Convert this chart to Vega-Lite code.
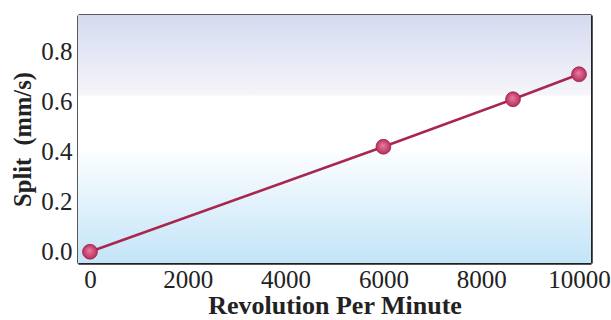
{
  "$schema": "https://vega.github.io/schema/vega-lite/v6.json",
  "width": 513,
  "height": 248,
  "autosize": "none",
  "padding": {"left": 78, "top": 15, "right": 20, "bottom": 57},
  "background": "white",
  "config": {
    "view": {"stroke": null},
    "font": "Liberation Serif",
    "axis": {
      "grid": false,
      "domainColor": "#222222",
      "domainWidth": 2.5,
      "tickColor": "#222222",
      "tickWidth": 2.5,
      "tickSize": -8,
      "labelFont": "Liberation Serif",
      "labelFontSize": 25,
      "labelColor": "#222222",
      "titleFont": "Liberation Serif",
      "titleFontWeight": "bold",
      "titleFontSize": 25,
      "titleColor": "#222222"
    }
  },
  "data": {
    "values": [
      {"rpm": 0, "split": 0.0},
      {"rpm": 6000, "split": 0.42},
      {"rpm": 8650, "split": 0.61},
      {"rpm": 10000, "split": 0.71}
    ]
  },
  "layer": [
    {
      "data": {"values": [{"bg": 1}]},
      "mark": {
        "type": "rect",
        "fill": {
          "gradient": "linear",
          "x1": 0, "y1": 0, "x2": 0, "y2": 1,
          "stops": [
            {"offset": 0, "color": "#d4daef"},
            {"offset": 0.32, "color": "#f5f5fa"},
            {"offset": 0.33, "color": "#ffffff"},
            {"offset": 0.53, "color": "#ffffff"},
            {"offset": 1, "color": "#c3e4f8"}
          ]
        }
      },
      "encoding": {
        "x": {"value": 0},
        "x2": {"value": "width"},
        "y": {"value": 0},
        "y2": {"value": "height"}
      }
    },
    {
      "mark": {"type": "line", "color": "#a9264e", "strokeWidth": 2.5},
      "encoding": {
        "x": {
          "field": "rpm", "type": "quantitative",
          "scale": {"domain": [-245, 10245], "nice": false, "zero": false},
          "axis": {"orient": "bottom", "values": [0, 2000, 4000, 6000, 8000, 10000], "format": "d", "labelPadding": 12, "title": "Revolution Per Minute", "titleFontSize": 26, "titlePadding": 0}
        },
        "y": {
          "field": "split", "type": "quantitative",
          "scale": {"domain": [-0.045, 0.947], "nice": false, "zero": false},
          "axis": {"orient": "left", "values": [0, 0.2, 0.4, 0.6, 0.8], "format": ".1f", "labelPadding": 14, "title": "Split\u00a0 (mm/s)", "titleFontSize": 24.5, "titlePadding": 5}
        }
      }
    },
    {
      "mark": {
        "type": "point",
        "filled": true,
        "size": 220,
        "opacity": 1,
        "fill": {
          "gradient": "radial",
          "x1": 0.45, "y1": 0.4, "r1": 0,
          "x2": 0.5, "y2": 0.5, "r2": 0.5,
          "stops": [
            {"offset": 0, "color": "#ea7ea3"},
            {"offset": 1, "color": "#b92f5b"}
          ]
        },
        "stroke": "#9c2149",
        "strokeWidth": 0.8
      },
      "encoding": {
        "x": {
          "field": "rpm", "type": "quantitative",
          "axis": {"orient": "top", "values": [0, 2000, 4000, 6000, 8000, 10000], "labels": false, "title": null}
        },
        "y": {
          "field": "split", "type": "quantitative",
          "axis": {"orient": "right", "values": [0, 0.2, 0.4, 0.6, 0.8], "labels": false, "title": null}
        }
      }
    }
  ],
  "resolve": {"axis": {"x": "independent", "y": "independent"}}
}
